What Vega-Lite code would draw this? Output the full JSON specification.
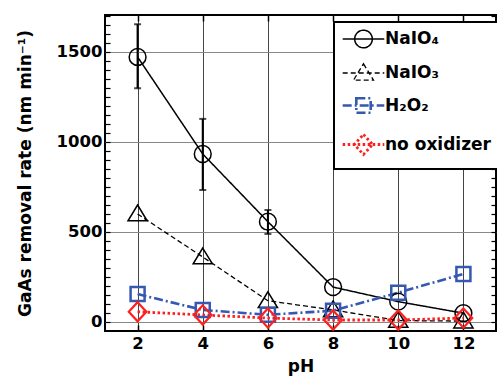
{
  "$schema": "https://vega.github.io/schema/vega-lite/v6.json",
  "width": 391,
  "height": 316,
  "autosize": {"type": "none"},
  "padding": {"left": 105, "top": 15, "right": 1, "bottom": 48},
  "background": "#ffffff",
  "config": {
    "font": "DejaVu Sans",
    "view": {"stroke": "#000000", "strokeWidth": 2},
    "axis": {
      "labelFont": "DejaVu Sans", "labelFontWeight": "bold", "labelFontSize": 16.5, "labelColor": "#000000",
      "titleFont": "DejaVu Sans", "titleFontWeight": "bold", "titleFontSize": 17, "titleColor": "#000000",
      "domain": false, "tickColor": "#000000"
    },
    "legend": {
      "orient": "none", "legendX": 229, "legendY": 7,
      "strokeColor": "#000000", "strokeWidth": 2, "fillColor": "#ffffff",
      "padding": 8, "rowPadding": 10, "symbolSize": 256, "symbolOffset": 12, "labelOffset": 12,
      "symbolOpacity": 1, "symbolFillColor": "transparent",
      "labelFont": "DejaVu Sans", "labelFontWeight": "bold", "labelFontSize": 17, "labelColor": "#000000",
      "title": null
    }
  },
  "data": {"values": [
    {"series": "NaIO₄", "pH": 2, "rate": 1472, "lo": 1298, "hi": 1654},
    {"series": "NaIO₄", "pH": 4, "rate": 933, "lo": 733, "hi": 1128},
    {"series": "NaIO₄", "pH": 6, "rate": 557, "lo": 489, "hi": 622},
    {"series": "NaIO₄", "pH": 8, "rate": 194, "lo": null, "hi": null},
    {"series": "NaIO₄", "pH": 10, "rate": 113, "lo": null, "hi": null},
    {"series": "NaIO₄", "pH": 12, "rate": 49, "lo": null, "hi": null},
    {"series": "NaIO₃", "pH": 2, "rate": 600, "lo": null, "hi": null},
    {"series": "NaIO₃", "pH": 4, "rate": 361, "lo": null, "hi": null},
    {"series": "NaIO₃", "pH": 6, "rate": 118, "lo": null, "hi": null},
    {"series": "NaIO₃", "pH": 8, "rate": 67, "lo": null, "hi": null},
    {"series": "NaIO₃", "pH": 10, "rate": 8, "lo": null, "hi": null},
    {"series": "NaIO₃", "pH": 12, "rate": 5, "lo": null, "hi": null},
    {"series": "H₂O₂", "pH": 2, "rate": 155, "lo": null, "hi": null},
    {"series": "H₂O₂", "pH": 4, "rate": 67, "lo": null, "hi": null},
    {"series": "H₂O₂", "pH": 6, "rate": 40, "lo": null, "hi": null},
    {"series": "H₂O₂", "pH": 8, "rate": 63, "lo": null, "hi": null},
    {"series": "H₂O₂", "pH": 10, "rate": 163, "lo": null, "hi": null},
    {"series": "H₂O₂", "pH": 12, "rate": 267, "lo": null, "hi": null},
    {"series": "no oxidizer", "pH": 2, "rate": 57, "lo": null, "hi": null},
    {"series": "no oxidizer", "pH": 4, "rate": 39, "lo": null, "hi": null},
    {"series": "no oxidizer", "pH": 6, "rate": 22, "lo": null, "hi": null},
    {"series": "no oxidizer", "pH": 8, "rate": 11, "lo": null, "hi": null},
    {"series": "no oxidizer", "pH": 10, "rate": 11, "lo": null, "hi": null},
    {"series": "no oxidizer", "pH": 12, "rate": 22, "lo": null, "hi": null}
  ]},
  "layer": [
    {
      "mark": {"type": "line", "clip": true},
      "encoding": {
        "x": {"field": "pH", "type": "quantitative", "scale": {"domain": [1, 13], "nice": false, "zero": false},
          "axis": {"orient": "bottom", "values": [2, 4, 6, 8, 10, 12], "title": "pH", "grid": true, "gridColor": "#444444", "gridWidth": 1,
            "tickSize": -6, "tickWidth": 1.5, "labelPadding": 10, "titlePadding": 7}},
        "y": {"field": "rate", "type": "quantitative", "scale": {"domain": [-50, 1705], "nice": false, "zero": false},
          "axis": {"orient": "left", "values": [0,50,100,150,200,250,300,350,400,450,500,550,600,650,700,750,800,850,900,950,1000,1050,1100,1150,1200,1250,1300,1350,1400,1450,1500,1550,1600,1650,1700],
            "format": "d", "labelExpr": "datum.value % 500 === 0 ? datum.label : ''",
            "title": "GaAs removal rate (nm min⁻¹)", "grid": true, "gridColor": "#888888", "gridWidth": 1,
            "gridOpacity": {"condition": {"test": "datum.value % 500 === 0", "value": 1}, "value": 0},
            "tickSize": -5, "tickWidth": 1.2, "labelPadding": 8, "titlePadding": 22}},
        "color": {"field": "series", "type": "nominal",
          "scale": {"domain": ["NaIO₄", "NaIO₃", "H₂O₂", "no oxidizer"], "range": ["#000000", "#000000", "#3558b0", "#ff1f1f"]}},
        "strokeDash": {"field": "series", "type": "nominal",
          "scale": {"domain": ["NaIO₄", "NaIO₃", "H₂O₂", "no oxidizer"], "range": [[1, 0], [5, 3], [9, 3, 2, 3], [2.5, 2.5]]}},
        "strokeWidth": {"field": "series", "type": "nominal",
          "scale": {"type": "ordinal", "domain": ["NaIO₄", "NaIO₃", "H₂O₂", "no oxidizer"], "range": [1.5, 1.3, 2.6, 2.8]}}
      }
    },
    {
      "transform": [{"filter": "isValid(datum.lo)"}],
      "mark": {"type": "errorbar", "ticks": true, "size": 7, "thickness": 2, "color": "#000000"},
      "encoding": {
        "x": {"field": "pH", "type": "quantitative", "axis": null},
        "y": {"field": "lo", "type": "quantitative", "axis": null},
        "y2": {"field": "hi"}
      }
    },
    {
      "transform": [{"filter": "datum.series === 'NaIO₄'"}],
      "mark": {"type": "point", "shape": "M-1.05,0A1.05,1.05 0 1,0 1.05,0A1.05,1.05 0 1,0 -1.05,0Z", "size": 256, "filled": false, "color": "#000000", "strokeWidth": 1.5, "opacity": 1},
      "encoding": {
        "x": {"field": "pH", "type": "quantitative", "axis": null},
        "y": {"field": "rate", "type": "quantitative", "axis": null}
      }
    },
    {
      "transform": [{"filter": "datum.series === 'NaIO₃'"}],
      "mark": {"type": "point", "shape": "M0,-1.12L1.2,0.85L-1.2,0.85Z", "size": 256, "filled": false, "color": "#000000", "strokeWidth": 1.5, "opacity": 1},
      "encoding": {
        "x": {"field": "pH", "type": "quantitative", "axis": null},
        "y": {"field": "rate", "type": "quantitative", "axis": null}
      }
    },
    {
      "transform": [{"filter": "datum.series === 'H₂O₂'"}],
      "mark": {"type": "point", "shape": "M-0.875,-0.875H0.875V0.875H-0.875Z", "size": 256, "filled": false, "color": "#3558b0", "strokeWidth": 2.5, "opacity": 1},
      "encoding": {
        "x": {"field": "pH", "type": "quantitative", "axis": null},
        "y": {"field": "rate", "type": "quantitative", "axis": null}
      }
    },
    {
      "transform": [{"filter": "datum.series === 'no oxidizer'"}],
      "mark": {"type": "point", "shape": "M0,-1.2L1.1,0L0,1.2L-1.1,0Z", "size": 256, "filled": false, "color": "#ff1f1f", "strokeWidth": 2.2, "opacity": 1},
      "encoding": {
        "x": {"field": "pH", "type": "quantitative", "axis": null},
        "y": {"field": "rate", "type": "quantitative", "axis": null}
      }
    },
    {
      "mark": {"type": "point", "filled": false, "opacity": 0, "size": 256},
      "encoding": {
        "x": {"field": "pH", "type": "quantitative",
          "axis": {"orient": "top", "values": [2, 4, 6, 8, 10, 12], "labels": false, "title": null, "grid": false, "tickSize": -6, "tickWidth": 1.5}},
        "y": {"field": "rate", "type": "quantitative",
          "axis": {"orient": "right", "values": [0,50,100,150,200,250,300,350,400,450,500,550,600,650,700,750,800,850,900,950,1000,1050,1100,1150,1200,1250,1300,1350,1400,1450,1500,1550,1600,1650,1700],
            "labels": false, "title": null, "grid": false, "tickSize": -5, "tickWidth": 1.2}},
        "color": {"field": "series", "type": "nominal"},
        "strokeDash": {"field": "series", "type": "nominal"},
        "shape": {"field": "series", "type": "nominal",
          "scale": {"domain": ["NaIO₄", "NaIO₃", "H₂O₂", "no oxidizer"],
            "range": [
              "M-2.6,0H2.6M-1.1,0A1.1,1.1 0 1,0 1.1,0A1.1,1.1 0 1,0 -1.1,0Z",
              "M-2.6,0H2.6M0,-1.15L1.25,0.9L-1.25,0.9Z",
              "M-2.6,0H2.6M-0.9,-0.9H0.9V0.9H-0.9Z",
              "M-2.6,0H2.6M0,-1.25L1.15,0L0,1.25L-1.15,0Z"
            ]}}
      }
    }
  ],
  "resolve": {"axis": {"x": "independent", "y": "independent"}}
}
